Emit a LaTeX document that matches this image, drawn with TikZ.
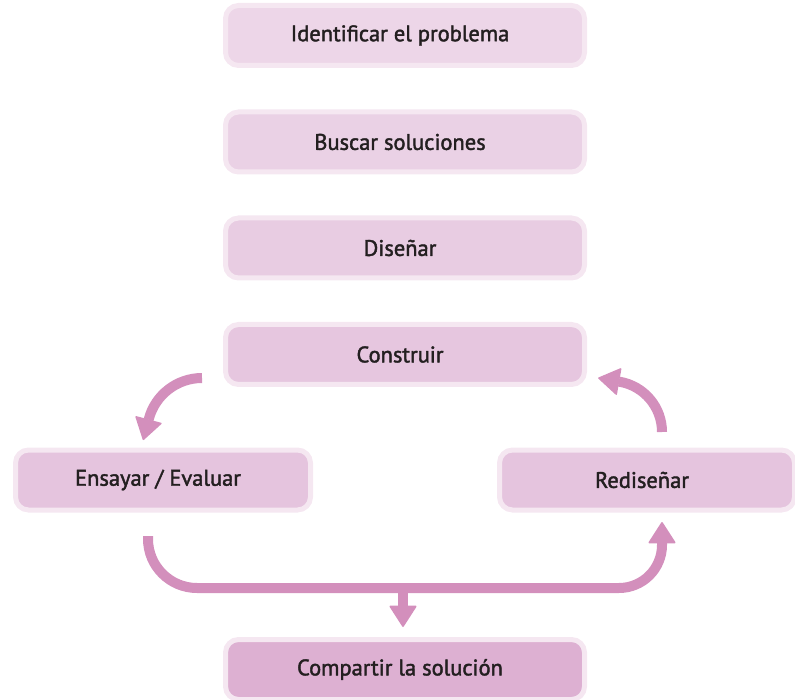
\documentclass[tikz,border=0pt]{standalone}
\usepackage{fontspec}
\newfontfamily\boxfont{PT Sans}[FakeBold=1.8]
\usetikzlibrary{arrows.meta}

\definecolor{arrowpink}{RGB}{211,143,188}
\definecolor{halo}{RGB}{245,231,241}
\definecolor{fillA}{RGB}{237,214,232}
\definecolor{fillB}{RGB}{234,209,229}
\definecolor{fillC}{RGB}{232,204,226}
\definecolor{fillD}{RGB}{230,198,223}
\definecolor{fillE}{RGB}{229,196,222}
\definecolor{fillF}{RGB}{221,176,210}
\definecolor{textdark}{RGB}{35,31,32}

\tikzset{
  stepbox/.style={rectangle, rounded corners=13pt, line width=5pt, draw=halo,
    minimum height=60pt, inner sep=0pt, text=textdark,
    font=\boxfont\fontsize{22.5}{24}\selectfont,
    execute at begin node=\kern-10pt},
  widebox/.style={minimum width=359pt},
  sidebox/.style={minimum width=295pt},
  flow/.style={draw=arrowpink, line width=10pt,
    -{Triangle[width=28pt,length=22pt,round,line width=1.5pt]}}
}

\begin{document}
\begin{tikzpicture}[x=1pt,y=1pt]
  \useasboundingbox (0,0) rectangle (795,-700);

  % main sequence of steps
  \node[stepbox, widebox, fill=fillA] (ident) at (405,-35.5) {Identificar el problema};
  \node[stepbox, widebox, fill=fillB] (buscar) at (405,-142) {Buscar soluciones};
  \node[stepbox, widebox, fill=fillC] (disenar) at (405,-248) {Diseñar};
  \node[stepbox, widebox, fill=fillD] (constr) at (405,-354.5) {Construir};

  % test / redesign loop
  \node[stepbox, sidebox, fill=fillE] (ensayar) at (163,-480) {Ensayar / Evaluar};
  \node[stepbox, sidebox, fill=fillE] (redis) at (647,-480) {Rediseñar};

  % final step
  \node[stepbox, widebox, fill=fillF] (compartir) at (405,-669.5) {Compartir la solución};

  % arrow ends
  \coordinate (lstart) at (202,-378);
  \coordinate (rstart) at (662,-432);
  \coordinate (bstart) at (148,-536);
  \coordinate (bend) at (662,-522);
  \coordinate (dstart) at (403,-588);
  \coordinate (dend) at (403,-627);

  % Construir -> Ensayar
  \draw[flow] (lstart) arc[start angle=90, end angle=165, radius=55] -- ++(-5.7,-21.3);
  % Rediseñar -> Construir
  \draw[flow] (rstart) arc[start angle=0, end angle=80, radius=51] -- ++(-21.7,3.8);
  % Ensayar -> Rediseñar along the bottom
  \draw[flow] (bstart) -- ++(0,-3) arc[start angle=180, end angle=270, radius=49]
    -- (619,-588) arc[start angle=270, end angle=360, radius=43] -- (bend);
  % branch down to Compartir
  \draw[flow] (dstart) -- (dend);
\end{tikzpicture}
\end{document}
